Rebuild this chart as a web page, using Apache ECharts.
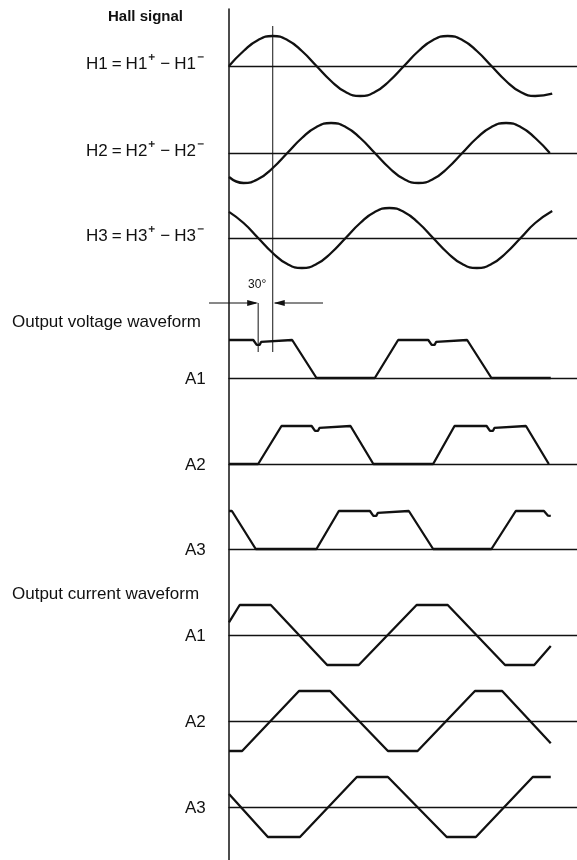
<!DOCTYPE html>
<html><head><meta charset="utf-8">
<script src="https://cdn.jsdelivr.net/npm/echarts@6/dist/echarts.min.js"></script>
<style>html,body{margin:0;padding:0;background:#fff}#c{width:577px;height:860px}</style>
</head><body><div id="c"></div>
<script>
// ---- data (x in electrical degrees, y normalised) ----
const xMaxDeg = 716;
const headings = ['Hall signal', 'Output voltage waveform', 'Output current waveform'];
const hallNames = ['H1', 'H2', 'H3'];
const voltageNames = ['A1', 'A2', 'A3'];
const currentNames = ['A1', 'A2', 'A3'];
const phaseMarkDeg = [60, 90];
const phaseMarkText = '30°';

const h1 = [[0,0],[30,0.5],[60,0.87],[90,1],[120,0.87],[150,0.5],[180,0],[210,-0.5],[240,-0.87],[270,-1],[300,-0.87],[330,-0.5],[360,0],[390,0.5],[420,0.87],[450,1],[480,0.87],[510,0.5],[540,0],[570,-0.5],[600,-0.87],[630,-1],[665,-0.92]];
const h2 = [[0,-0.8],[30,-1],[60,-0.87],[90,-0.5],[120,0],[150,0.5],[180,0.87],[210,1],[240,0.87],[270,0.5],[300,0],[330,-0.5],[360,-0.87],[390,-1],[420,-0.87],[450,-0.5],[480,0],[510,0.5],[540,0.87],[570,1],[600,0.87],[630,0.5],[660,0]];
const h3 = [[0,0.87],[30,0.5],[60,0],[90,-0.5],[120,-0.87],[150,-1],[180,-0.87],[210,-0.5],[240,0],[270,0.5],[300,0.87],[330,1],[360,0.87],[390,0.5],[420,0],[450,-0.5],[480,-0.87],[510,-1],[540,-0.87],[570,-0.5],[600,0],[630,0.5],[665,0.9]];

const v1 = [[0,1],[50,1],[54,0.95],[57,0.87],[60,0.85],[63,0.87],[66,0.95],[70,1],[130,1],[180,0],[300,0],[348,1],[410,1],[414,0.95],[417,0.87],[420,0.85],[423,0.87],[426,0.95],[430,1],[490,1],[540,0],[662,0]];
const v2 = [[0,0],[60,0],[108,1],[170,1],[174,0.95],[177,0.87],[180,0.85],[183,0.87],[186,0.95],[190,1],[250,1],[297,0],[420,0],[464,1],[530,1],[534,0.95],[537,0.87],[540,0.85],[543,0.87],[546,0.95],[550,1],[611,1],[658,0]];
const v3 = [[0,1],[6,1],[55,0],[180,0],[226,1],[290,1],[294,0.95],[297,0.87],[300,0.85],[303,0.87],[306,0.95],[310,1],[370,1],[420,0],[540,0],[590,1],[648,1],[652,0.95],[656,0.88],[662,0.87]];

const c1 = [[0,0.42],[22,1],[86,1],[202,-1],[267,-1],[386,1],[450,1],[568,-1],[628,-1],[662,-0.37]];
const c2 = [[0,-1],[27,-1],[144,1],[208,1],[327,-1],[388,-1],[506,1],[562,1],[662,-0.74]];
const c3 = [[0,0.43],[80,-1],[146,-1],[263,1],[327,1],[448,-1],[508,-1],[625,1],[662,1]];

const waves = [h1, h2, h3, v1, v2, v3, c1, c2, c3];

// ---- layout ----
const LEFT = 229;
const bands = [
  {top:33, height:66, min:-1.1, max:1.1},
  {top:120, height:66, min:-1.1, max:1.1},
  {top:205, height:66, min:-1.1, max:1.1},
  {top:340, height:38, min:0, max:1},
  {top:426, height:38, min:0, max:1},
  {top:511, height:38, min:0, max:1},
  {top:602, height:66, min:-1.1, max:1.1},
  {top:688, height:66, min:-1.1, max:1.1},
  {top:774, height:66, min:-1.1, max:1.1}
];
const FONT = '"Liberation Sans", Arial, Helvetica, sans-serif';
const INK = '#111';

const chart = echarts.init(document.getElementById('c'), null, {renderer:'canvas'});
const grid = bands.map(b => ({left:LEFT, right:0, top:b.top, height:b.height}));
grid.push({left:LEFT, top:9, bottom:0, width:1});
const xAxis = bands.map((b,i) => ({type:'value', gridIndex:i, min:0, max:xMaxDeg,
  axisLine:{show:true, onZero:true, lineStyle:{color:INK, width:1.3}},
  axisTick:{show:false}, axisLabel:{show:false}, splitLine:{show:false}}));
xAxis.push({type:'value', gridIndex:9, min:0, max:1, show:false});
const yAxis = bands.map((b,i) => ({type:'value', gridIndex:i, min:b.min, max:b.max, show:false}));
yAxis.push({type:'value', gridIndex:9, min:0, max:1, position:'left',
  axisLine:{show:true, onZero:false, lineStyle:{color:INK, width:1.5}},
  axisTick:{show:false}, axisLabel:{show:false}, splitLine:{show:false}});
const series = waves.map((d,i) => ({type:'line', xAxisIndex:i, yAxisIndex:i, data:d,
  smooth: i < 3 ? 0.5 : false, symbol:'none', clip:false,
  lineStyle:{color:INK, width:2.3}}));

chart.setOption({animation:false, backgroundColor:'#fff', grid, xAxis, yAxis, series});

const px = (g, x, y) => chart.convertToPixel({gridIndex:g}, [x, y]);
const graphic = [];
const txt = (x, y, text, size, align, weight) => ({type:'text', x, y, silent:true,
  style:{text, fill:INK, fontSize:size, fontFamily:FONT, fontWeight:weight||'normal', align, verticalAlign:'middle'}});

graphic.push(txt(108, 17, headings[0], 15, 'left', 'bold'));
graphic.push(txt(12, 322, headings[1], 17, 'left'));
graphic.push(txt(12, 594, headings[2], 17, 'left'));

hallNames.forEach((n, i) => {
  const yb = px(i, 0, 0)[1];
  graphic.push({type:'text', x:205, y:yb - 2, silent:true, style:{
    text:`{t|${n}}{e|=}{t|${n}}{s|⁺}{e|−}{t|${n}}{s|⁻}`,
    align:'right', verticalAlign:'middle', fill:INK,
    rich:{
      t:{fontSize:17, fontFamily:FONT, fill:INK},
      e:{fontSize:17, fontFamily:FONT, fill:INK, padding:[0,4,0,4]},
      s:{fontSize:22, fontFamily:FONT, fill:INK, padding:[0,1,0,1]}
    }}});
});
voltageNames.forEach((n, i) => {
  const yb = px(3 + i, 0, 0)[1];
  graphic.push(txt(185, yb + 1, n, 17, 'left'));
});
currentNames.forEach((n, i) => {
  const yb = px(6 + i, 0, 0)[1];
  graphic.push(txt(185, yb + 1, n, 17, 'left'));
});

// 30° phase annotation
const xa = px(0, phaseMarkDeg[0], 0)[0];
const xb = px(0, phaseMarkDeg[1], 0)[0];
const ay = 303;
const ln = (x1, y1, x2, y2, w) => ({type:'line', silent:true, shape:{x1, y1, x2, y2}, style:{stroke:INK, lineWidth:w}});
graphic.push(ln(xb, 26, xb, 352, 1));
graphic.push(ln(xa, ay, xa, 352, 1));
graphic.push(ln(209, ay, xa - 2, ay, 1));
graphic.push(ln(xb + 2, ay, 323, ay, 1));
graphic.push({type:'polygon', silent:true, shape:{points:[[xa, ay],[xa - 11, ay - 3],[xa - 11, ay + 3]]}, style:{fill:INK}});
graphic.push({type:'polygon', silent:true, shape:{points:[[xb + 1, ay],[xb + 12, ay - 3],[xb + 12, ay + 3]]}, style:{fill:INK}});
graphic.push(txt(xa - 1, 285, phaseMarkText, 12, 'center'));

chart.setOption({graphic});
</script></body></html>
